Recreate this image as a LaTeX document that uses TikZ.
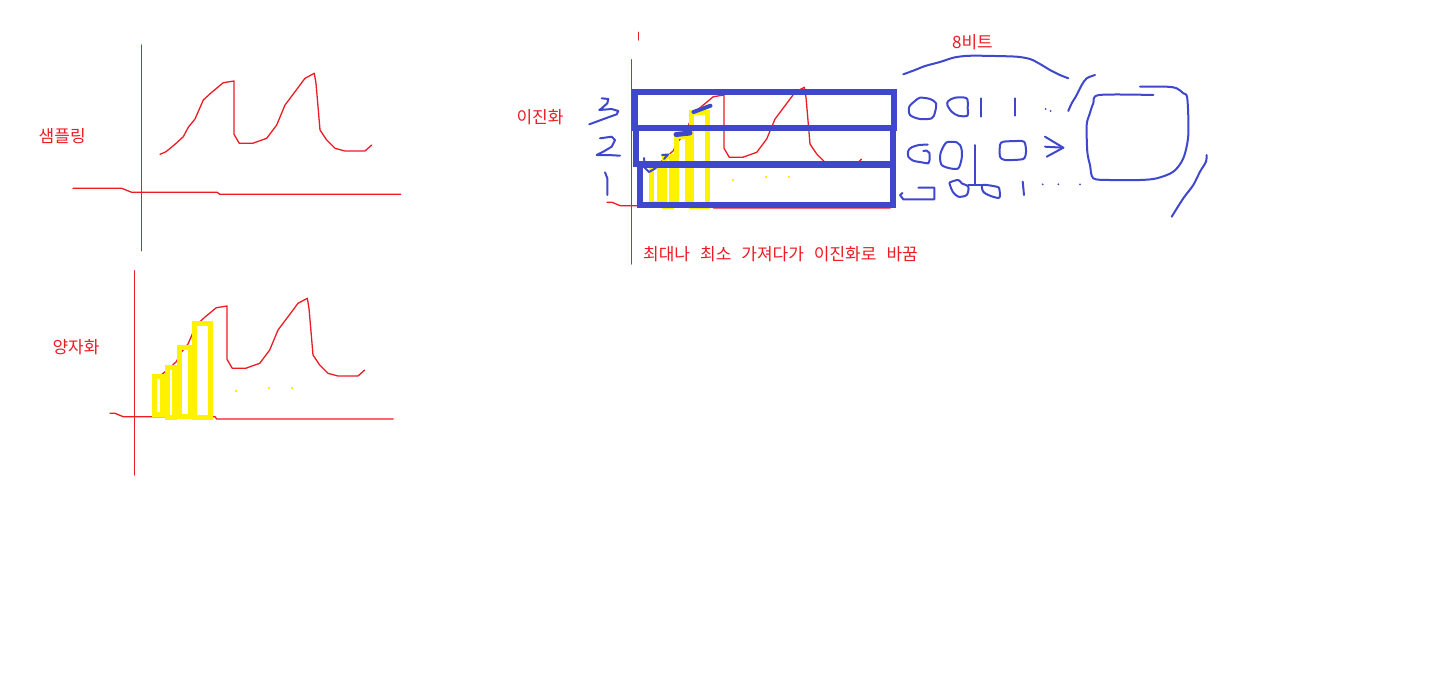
\documentclass[tikz,border=0pt]{standalone}
\usepackage{fontspec}
\newfontfamily\kr{Noto Sans CJK KR}
\definecolor{pred}{HTML}{ED1C24}
\definecolor{pblue}{HTML}{3F48CC}
\definecolor{pyel}{HTML}{FFF200}
\def\wave{(160,154.3) -- (166,151.7) -- (175,144.3) -- (183.3,136.7) -- (188.3,127.3) -- (195,119) -- (203.3,100) -- (211.7,92.3) -- (223.3,82.7) -- (234,81) -- (234,134.3) -- (239.3,143.3) -- (252.7,143.3) -- (266.7,138.3) -- (276.7,125) -- (285,105) -- (295,91.7) -- (305,78.3) -- (314.3,73.3) -- (316,83.3) -- (318.3,110) -- (320,130) -- (326.7,140) -- (335,148.3) -- (345,151) -- (365,151) -- (371.7,145)}
\begin{document}
\begin{tikzpicture}[x=1pt,y=-1pt,
  redline/.style={draw=pred,line width=1.3pt,line join=round,line cap=round},
  bluepen/.style={draw=pblue,line width=2pt,line join=round,line cap=round},
  bluebox/.style={draw=pblue,line width=6pt},
  yelbar/.style={draw=pyel,line width=5pt},
  yeldot/.style={fill=pyel},
  lab/.style={text=pred,font=\kr\fontsize{17}{19}\selectfont,inner sep=0pt}
]
\useasboundingbox[fill=white] (0,0) rectangle (1430,681);

% ---------- panel 1 : sampling
\draw[redline] (141.7,45) -- (141.7,250.7);
\draw[redline] (73,188.3) -- (121.7,188.3) -- (131.7,192.3) -- (217,192.3) -- (220,194.3) -- (400.7,194.3);
\draw[redline] \wave;
\node[lab] (samp) at (62.2,135.7) {샘플링};

% ---------- panel 2 : quantization (and panel 3 copy)
\foreach \dx/\dy in {0/0, 497/-211}{
\begin{scope}[shift={(\dx,\dy)}]
\draw[redline] (134.7,270.7) -- (134.7,475);
\draw[redline] (110,413.3) -- (115,413.3) -- (123.3,416.7) -- (215,416.7) -- (216.7,419) -- (393.3,419);
\begin{scope}[shift={(-7,225)}]
\draw[redline] \wave;
\end{scope}
\draw[yelbar] (154.7,376.7) rectangle (162.7,414.3);
\draw[yelbar] (167.3,367.3) rectangle (174.3,417);
\draw[yelbar] (179,347.3) rectangle (190,416.7);
\draw[yelbar] (194.7,323.3) rectangle (210.3,417);
\fill[yeldot] (234.7,389.7) rectangle (236.7,391.7);
\fill[yeldot] (268,386.7) rectangle (270,388.7);
\fill[yeldot] (291,386.7) rectangle (293,388.7);
\end{scope}}
\node[lab] (quant) at (76,347.3) {양자화};

% ---------- panel 3 : binarization
\draw[redline] (638.3,32.3) -- (638.3,40);
\draw[bluebox] (635.3,92) rectangle (893.7,128);
\draw[bluebox] (636.3,128) rectangle (893,163.7);
\draw[bluebox] (640.3,164.7) rectangle (893,204.7);
% marks on bar tops
\draw[bluepen,line width=4pt] (693.5,112) -- (710.5,105.7);
\draw[bluepen,line width=5pt] (676,134.5) -- (690,133);
\draw[bluepen] (662,155) -- (668,154.5) -- (664,159);
\draw[bluepen] (644,158) -- (645,168) -- (649,172) -- (656,168);
% digits
\draw[bluepen] (601.7,98.3) -- (608.3,99) -- (607.3,103.3) -- (601.7,108.3) -- (599.3,110) -- (611.7,109) -- (618.3,111) -- (616.7,114.3) -- (608.3,117.3) -- (598.3,121) -- (589.3,124.3);
\draw[bluepen] (600,138.3) -- (611.7,136.7) -- (615,140) -- (611.7,146.7) -- (603.3,151.7) -- (596.7,155) -- (608.3,155) -- (620,155.7);
\draw[bluepen] (605,172.3) -- (607.3,178.3) -- (607.3,185) -- (607.3,195);
\node[lab] (bin) at (540,117.5) {이진화};
\node[lab,anchor=west] (note) at (643,253.7) {\spaceskip=10pt 최대나 최소 가져다가 이진화로 바꿈};

% ---------- panel 4 : 8 bits
\node[lab] (bits) at (972.5,42) {8비트};
\draw[bluepen] plot[smooth] coordinates {(903.3,74.3) (915,70) (925,66) (940,62) (953.3,57.7) (965,56) (976.7,55.7) (995,56) (1016.7,56.7) (1030,59) (1040,64) (1050,70) (1060,75) (1068.3,78.3)};
% row 1
\draw[bluepen] plot[smooth cycle] coordinates {(920,97.7) (930,99) (936,103.3) (935,112.3) (931.7,118.3) (920,119) (910,115) (909.3,106.7) (915,101)};
\draw[bluepen] plot[smooth cycle] coordinates {(948.3,101) (955,97.7) (966.7,98.3) (967.7,108.3) (967.3,115.7) (958.3,115.7) (951.7,111.7) (947.3,105)};
\draw[bluepen] (980.7,98.3) -- (980.7,116.7);
\draw[bluepen] (1015,98.3) -- (1015,115.7);
\fill[pblue] (1045.7,109) circle (1pt);
\fill[pblue] (1050.7,111) circle (1pt);
% row 2
\draw[bluepen] plot[smooth] coordinates {(927.7,144.7) (919,145) (911.7,147.3) (908.3,150.7) (908.3,156.7) (913.3,160.7) (921.7,162.3) (928.3,163.3) (929.7,158.3) (929.3,152.7) (926.7,150.7) (923.3,151)};
\draw[bluepen] plot[smooth cycle] coordinates {(946.7,142.3) (956.7,142.3) (960,145) (961.7,150) (961.7,158.3) (958.3,168.3) (950,168.3) (941.7,165) (940,156.7) (941.7,150)};
\draw[bluepen] (975,145) -- (975,185);
\draw[bluepen] (968.3,185) -- (981.7,185);
\draw[bluepen] plot[smooth cycle,tension=0.4] coordinates {(1003.3,141.7) (1021.7,141) (1025,143.3) (1026,151.7) (1023.3,159) (1005,160) (1000,156.7) (1000,145)};
\draw[bluepen] (1045,146.7) -- (1063.3,147.7);
\draw[bluepen] (1045,136.7) -- (1063.3,147.7) -- (1046.7,156.7);
% row 3
\draw[bluepen] (918.3,187.7) -- (934.3,187.7) -- (934.3,199.3) -- (903.3,199.3) -- (900,195) -- (902.5,193);
\draw[bluepen] plot[smooth cycle] coordinates {(950,182.3) (958.3,180) (961.7,183.3) (968.3,186.7) (966.7,195) (958.3,196.7) (952.7,191.7) (950,185)};
\draw[bluepen] plot[smooth cycle] coordinates {(982.7,185) (996.7,186.7) (999.3,189) (999.3,197.7) (990,195.7) (983.3,191.7)};
\draw[bluepen] (1022.7,181.7) -- (1024,195);
\fill[pblue] (1042.7,184.3) circle (1pt);
\fill[pblue] (1058.3,184.3) circle (1pt);
\fill[pblue] (1080,184.3) circle (1pt);
% bracket and box
\draw[bluepen] plot[smooth] coordinates {(1068.3,111) (1071.7,103.3) (1076.7,95) (1081.7,85) (1086.7,78.3) (1095,75)};
\draw[bluepen] plot[smooth] coordinates {(1153.3,95) (1099.3,95) (1093.3,103.3) (1089.3,115) (1086.7,125) (1087.3,151.7) (1090,165) (1093.3,178.3) (1110,180) (1140,180) (1156.7,178.3) (1173.3,171.7) (1183.3,158.3) (1188.3,135) (1187.3,98.3) (1183.3,93.3) (1176.7,88.3) (1166.7,86.7) (1140,86.7)};
\draw[bluepen] plot[smooth] coordinates {(1206.7,155) (1206,161.7) (1200,171.7) (1193.3,185) (1183.3,198.3) (1171.7,216.7)};
\end{tikzpicture}
\end{document}
